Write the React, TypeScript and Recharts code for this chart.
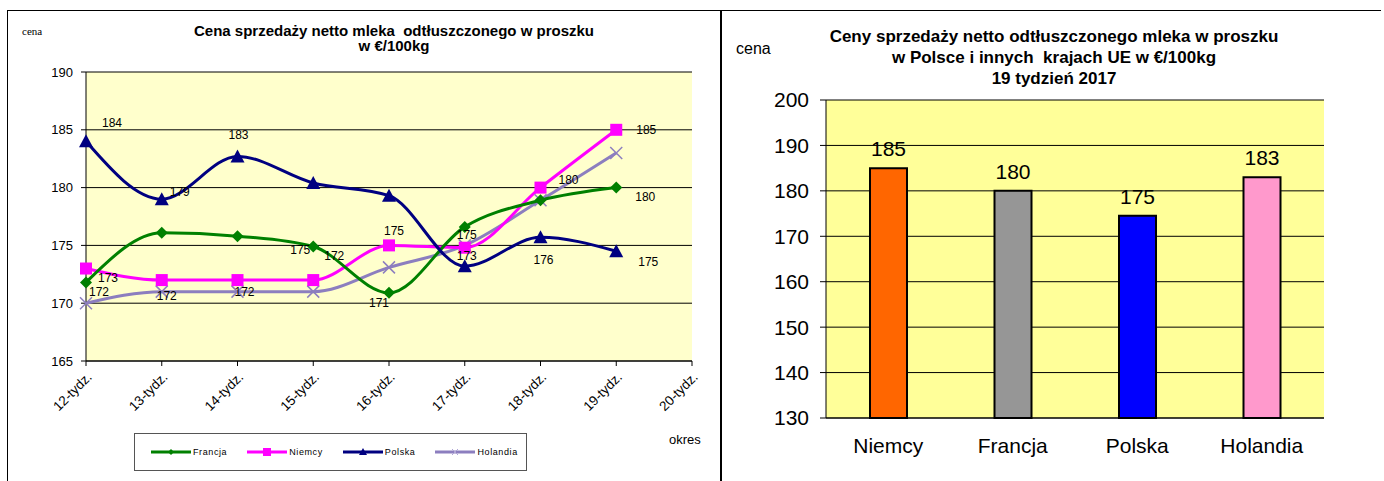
import {
  LineChart,
  Line,
  BarChart,
  Bar,
  XAxis,
  YAxis,
  CartesianGrid,
  LabelList,
  Legend,
  Cell,
} from 'recharts';

// left chart: weekly prices
const weeks = ['12-tydz.', '13-tydz.', '14-tydz.', '15-tydz.', '16-tydz.', '17-tydz.', '18-tydz.', '19-tydz.', '20-tydz.'];
const francja = [171.8, 176.1, 175.8, 174.9, 170.9, 176.6, 178.9, 180, null];
const niemcy = [173, 172, 172, 172, 175, 174.8, 180, 185, null];
const polska = [184, 179, 182.7, 180.4, 179.3, 173.2, 175.7, 174.5, null];
const holandia = [170, 171, 171, 171, 173.1, 175, 178.9, 183, null];

// data labels shown in the original (not every point has one)
const francjaLabels = ['172', null, null, '175', '171', '175', null, '180', null];
const niemcyLabels = ['173', '172', '172', '172', '175', null, '180', '185', null];
const polskaLabels = ['184', '179', '183', null, null, '173', '176', '175', null];

const lineTicks = [165, 170, 175, 180, 185, 190];

// right chart: week 19
const countries = ['Niemcy', 'Francja', 'Polska', 'Holandia'];
const week19 = [185, 180, 174.5, 183];
const week19Labels = ['185', '180', '175', '183'];
const barTicks = [130, 140, 150, 160, 170, 180, 190, 200];

const lineData = weeks.map((w, i) => ({
  week: w,
  Francja: francja[i],
  Niemcy: niemcy[i],
  Polska: polska[i],
  Holandia: holandia[i],
}));

const barData = countries.map((c, i) => ({ country: c, value: week19[i], label: week19Labels[i] }));

const barColours = ['#ff6600', '#969696', '#0000ff', '#ff99cc'];

// label offsets (dx, dy) relative to the point, per series
const labelOffsets: Record<string, [number, number][]> = {
  Francja: [[13, 10], [0, 0], [0, 0], [-13, 3], [-10, 10], [2, 8], [0, 0], [29, 9], [0, 0]],
  Niemcy: [[22, 9], [5, 16], [7, 12], [21, -24], [5, -14], [0, 0], [28, -8], [30, 0], [0, 0]],
  Polska: [[26, -18], [18, -7], [1, -21], [0, 0], [0, 0], [2, -10], [3, 23], [32, 11], [0, 0]],
};

const FONT = '"Liberation Sans", Arial, sans-serif';

function makeLabel(series: string, labels: (string | null)[]) {
  return (props: any) => {
    const { x, y, index } = props;
    const text = labels[index];
    if (!text || x == null || y == null) return null;
    const [dx, dy] = labelOffsets[series][index];
    return (
      <text
        x={x + dx}
        y={y + dy}
        textAnchor="middle"
        dominantBaseline="central"
        fontSize={12}
        fontFamily={FONT}
        fill="#000"
      >
        {text}
      </text>
    );
  };
}

function Diamond(props: any) {
  const { cx, cy } = props;
  if (cx == null || cy == null) return null;
  const r = 6;
  return <polygon points={`${cx},${cy - r} ${cx + r},${cy} ${cx},${cy + r} ${cx - r},${cy}`} fill="#008000" />;
}

function Square(props: any) {
  const { cx, cy } = props;
  if (cx == null || cy == null) return null;
  return <rect x={cx - 6} y={cy - 6} width={12} height={12} fill="#ff00ff" />;
}

function Triangle(props: any) {
  const { cx, cy } = props;
  if (cx == null || cy == null) return null;
  return <polygon points={`${cx},${cy - 7} ${cx + 7},${cy + 6} ${cx - 7},${cy + 6}`} fill="#000080" />;
}

function Cross(props: any) {
  const { cx, cy } = props;
  if (cx == null || cy == null) return null;
  const r = 6;
  return (
    <g stroke="#8c7ebf" strokeWidth={1.5}>
      <line x1={cx - r} y1={cy - r} x2={cx + r} y2={cy + r} />
      <line x1={cx - r} y1={cy + r} x2={cx + r} y2={cy - r} />
    </g>
  );
}

const legendItems = [
  { name: 'Francja', colour: '#008000', marker: 'diamond' },
  { name: 'Niemcy', colour: '#ff00ff', marker: 'square' },
  { name: 'Polska', colour: '#000080', marker: 'triangle' },
  { name: 'Holandia', colour: '#8c7ebf', marker: 'cross' },
];

function LegendBox() {
  return (
    <div
      style={{
        width: 393,
        height: 38,
        border: '1px solid #555',
        background: '#fff',
        display: 'flex',
        alignItems: 'center',
        paddingLeft: 16,
        boxSizing: 'border-box',
        fontFamily: FONT,
        fontSize: 9,
        letterSpacing: 0.6,
        color: '#000',
      }}
    >
      {legendItems.map((it) => (
        <div key={it.name} style={{ display: 'flex', alignItems: 'center', marginRight: 20 }}>
          <svg width={40} height={10}>
            <line x1={0} y1={5} x2={40} y2={5} stroke={it.colour} strokeWidth={3} />
            {it.marker === 'diamond' && <polygon points="20,2 23,5 20,8 17,5" fill={it.colour} />}
            {it.marker === 'square' && <rect x={16} y={1} width={8} height={8} fill={it.colour} />}
            {it.marker === 'triangle' && <polygon points="20,1 24,8 16,8" fill={it.colour} />}
            {it.marker === 'cross' && (
              <g stroke="#b0a6d6" strokeWidth={1}>
                <line x1={17} y1={2} x2={23} y2={8} />
                <line x1={17} y1={8} x2={23} y2={2} />
              </g>
            )}
          </svg>
          <span style={{ marginLeft: 2 }}>{it.name}</span>
        </div>
      ))}
    </div>
  );
}

function WeeklyChart() {
  return (
    <div style={{ position: 'absolute', left: 0, top: 0, width: 720, height: 481 }}>
      <div
        style={{
          position: 'absolute',
          left: 0,
          top: 23,
          width: 788,
          textAlign: 'center',
          fontFamily: FONT,
          fontWeight: 'bold',
          fontSize: 15,
          lineHeight: '15px',
          whiteSpace: 'nowrap',
        }}
      >
        Cena sprzedaży netto mleka&nbsp; odtłuszczonego w proszku
        <br />w €/100kg
      </div>
      <div style={{ position: 'absolute', left: 22, top: 25, fontFamily: 'serif', fontSize: 11 }}>cena</div>
      <div style={{ position: 'absolute', left: 669, top: 432, fontFamily: FONT, fontSize: 13 }}>okres</div>
      <LineChart width={720} height={481} data={lineData} margin={{ top: 72, right: 28, left: 0, bottom: 60 }}>
        <CartesianGrid vertical={false} stroke="#000" fill="#ffffcc" strokeWidth={1} />
        <XAxis
          dataKey="week"
          stroke="#000"
          tickLine={{ stroke: '#000' }}
          tickSize={5}
          interval={0}
          height={60}
          angle={-45}
          textAnchor="end"
          tick={{ fontSize: 13.5, fill: '#000', fontFamily: FONT, dy: 3 }}
        />
        <YAxis
          domain={[165, 190]}
          ticks={lineTicks}
          width={86}
          stroke="#000"
          tickSize={5}
          tick={{ fontSize: 13, fill: '#000', fontFamily: FONT, dx: -6 }}
        />
        <Legend
          layout="vertical"
          align="center"
          verticalAlign="middle"
          wrapperStyle={{ position: 'absolute', left: 134, top: 433, width: 393, height: 38 }}
          content={() => <LegendBox />}
        />
        <Line
          type="monotone"
          dataKey="Holandia"
          stroke="#8c7ebf"
          strokeWidth={3}
          dot={<Cross />}
          isAnimationActive={false}
        />
        <Line
          type="monotone"
          dataKey="Niemcy"
          stroke="#ff00ff"
          strokeWidth={3}
          dot={<Square />}
          isAnimationActive={false}
        >
          <LabelList dataKey="Niemcy" content={makeLabel('Niemcy', niemcyLabels)} />
        </Line>
        <Line
          type="monotone"
          dataKey="Francja"
          stroke="#008000"
          strokeWidth={3}
          dot={<Diamond />}
          isAnimationActive={false}
        >
          <LabelList dataKey="Francja" content={makeLabel('Francja', francjaLabels)} />
        </Line>
        <Line
          type="monotone"
          dataKey="Polska"
          stroke="#000080"
          strokeWidth={3}
          dot={<Triangle />}
          isAnimationActive={false}
        >
          <LabelList dataKey="Polska" content={makeLabel('Polska', polskaLabels)} />
        </Line>
      </LineChart>
    </div>
  );
}

function CountryChart() {
  return (
    <div style={{ position: 'absolute', left: 722, top: 0, width: 660, height: 481 }}>
      <div
        style={{
          position: 'absolute',
          left: 0,
          top: 26,
          width: 664,
          textAlign: 'center',
          fontFamily: FONT,
          fontWeight: 'bold',
          fontSize: 17,
          lineHeight: '21px',
          whiteSpace: 'nowrap',
        }}
      >
        Ceny sprzedaży netto odtłuszczonego mleka w proszku
        <br />w Polsce i innych&nbsp; krajach UE w €/100kg
        <br />19 tydzień 2017
      </div>
      <div style={{ position: 'absolute', left: 14, top: 40, fontFamily: FONT, fontSize: 16 }}>cena</div>
      <BarChart width={660} height={481} data={barData} margin={{ top: 100, right: 58, left: 0, bottom: 13 }}>
        <CartesianGrid vertical={false} stroke="#000" fill="#ffff99" />
        <XAxis
          dataKey="country"
          stroke="#000"
          tickLine={false}
          height={50}
          tick={{ fontSize: 21, fill: '#000', fontFamily: FONT, dy: 12 }}
        />
        <YAxis
          domain={[130, 200]}
          ticks={barTicks}
          width={104}
          stroke="#000"
          tickSize={6}
          tick={{ fontSize: 21, fill: '#000', fontFamily: FONT, dx: -9 }}
        />
        <Bar dataKey="value" barSize={37} stroke="#000" strokeWidth={2} isAnimationActive={false}>
          {barData.map((d, i) => (
            <Cell key={d.country} fill={barColours[i]} />
          ))}
          <LabelList
            dataKey="label"
            position="top"
            offset={12}
            style={{ fontSize: 21, fill: '#000', fontFamily: FONT }}
          />
        </Bar>
      </BarChart>
    </div>
  );
}

export default function App() {
  return (
    <div style={{ position: 'absolute', left: 0, top: 0, width: 1384, height: 481, background: '#fff' }}>
      <div style={{ position: 'absolute', left: 7, top: 10, width: 1374, height: 0, borderTop: '1px solid #000' }} />
      <div style={{ position: 'absolute', left: 7, top: 10, width: 0, height: 471, borderLeft: '1px solid #000' }} />
      <div style={{ position: 'absolute', left: 720, top: 10, width: 0, height: 471, borderLeft: '2px solid #000' }} />
      <WeeklyChart />
      <CountryChart />
    </div>
  );
}
